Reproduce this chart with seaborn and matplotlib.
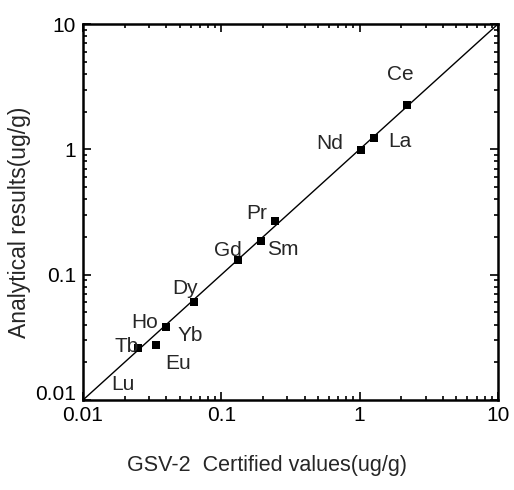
import matplotlib
matplotlib.use("Agg")
import matplotlib.pyplot as plt
import seaborn as sns
import pandas as pd
import numpy as np
from matplotlib.ticker import LogLocator, NullFormatter, FixedLocator, FixedFormatter

# ---- data ----
elements = ['Ce', 'La', 'Nd', 'Pr', 'Sm', 'Gd', 'Dy', 'Ho', 'Tb', 'Eu']
certified = [2.19, 1.28, 1.02, 0.244, 0.193, 0.131, 0.0638, 0.0396, 0.0251, 0.0337]
measured = [2.26, 1.24, 0.99, 0.27, 0.187, 0.131, 0.061, 0.0385, 0.0259, 0.0275]
line_range = [0.01, 10]
tick_values = [0.01, 0.1, 1, 10]
tick_labels = ['0.01', '0.1', '1', '10']
label_names = ['Ce', 'La', 'Nd', 'Pr', 'Sm', 'Gd', 'Dy', 'Ho', 'Yb', 'Tb', 'Eu', 'Lu']

# label positions (data coords, layout only)
label_pos = {
    'Ce': (1.96, 3.93), 'Nd': (0.61, 1.12), 'La': (1.96, 1.15),
    'Pr': (0.181, 0.31), 'Sm': (0.279, 0.16), 'Gd': (0.112, 0.157),
    'Dy': (0.0546, 0.078), 'Ho': (0.0281, 0.0412), 'Yb': (0.0594, 0.033),
    'Tb': (0.0208, 0.0265), 'Eu': (0.0487, 0.0197), 'Lu': (0.0195, 0.0132),
}

sns.set_style("ticks")
plt.rcParams['font.family'] = ['Liberation Sans', 'DejaVu Sans']

fig = plt.figure(figsize=(5.14, 4.90), dpi=100)
ax = fig.add_axes([83/514, 90/490, (498-83)/514, (400-24)/490])

df = pd.DataFrame({'element': elements, 'certified': certified, 'measured': measured})
line_df = pd.DataFrame({'x': line_range, 'y': line_range})

sns.lineplot(data=line_df, x='x', y='y', color='black', linewidth=1.0, ax=ax)
sns.scatterplot(data=df, x='certified', y='measured', marker='s', s=34,
                color='black', edgecolor='black', linewidth=0, ax=ax, zorder=3)

ax.set_xscale('log')
ax.set_yscale('log')
ax.set_xlim(0.01, 10)
ax.set_ylim(0.01, 10)

for name in label_names:
    x, y = label_pos[name]
    ax.text(x, y, name, ha='center', va='center', fontsize=15)

ax.xaxis.set_major_locator(FixedLocator(tick_values))
ax.xaxis.set_major_formatter(FixedFormatter(tick_labels))
ax.yaxis.set_major_locator(FixedLocator(tick_values))
ax.yaxis.set_major_formatter(FixedFormatter(tick_labels))
for axis in (ax.xaxis, ax.yaxis):
    axis.set_minor_locator(LogLocator(base=10, subs=np.arange(2, 10)))
    axis.set_minor_formatter(NullFormatter())

ax.tick_params(which='both', direction='in', top=True, right=True, labelsize=15,
               width=1.2, colors='black')
ax.tick_params(which='major', length=6)
ax.tick_params(which='minor', length=3)
ax.tick_params(axis='x', which='major', pad=4)
ax.tick_params(axis='y', which='major', pad=5)
ylabs = ax.get_yticklabels()
for lab in ylabs:
    lab.set_verticalalignment('center_baseline')
ylabs[0].set_verticalalignment('baseline')

for sp in ax.spines.values():
    sp.set_linewidth(1.8)
    sp.set_color('black')

ax.set_xlabel('')
ax.set_ylabel('')
fig.text(267/514, 1 - 465/490, 'GSV-2  Certified values(ug/g)', fontsize=15.5,
         ha='center', va='center')
fig.text(20/514, 1 - 222/490, 'Analytical results(ug/g)', fontsize=16.5,
         ha='center', va='center', rotation=90)

fig.savefig('out.png', dpi=100)
